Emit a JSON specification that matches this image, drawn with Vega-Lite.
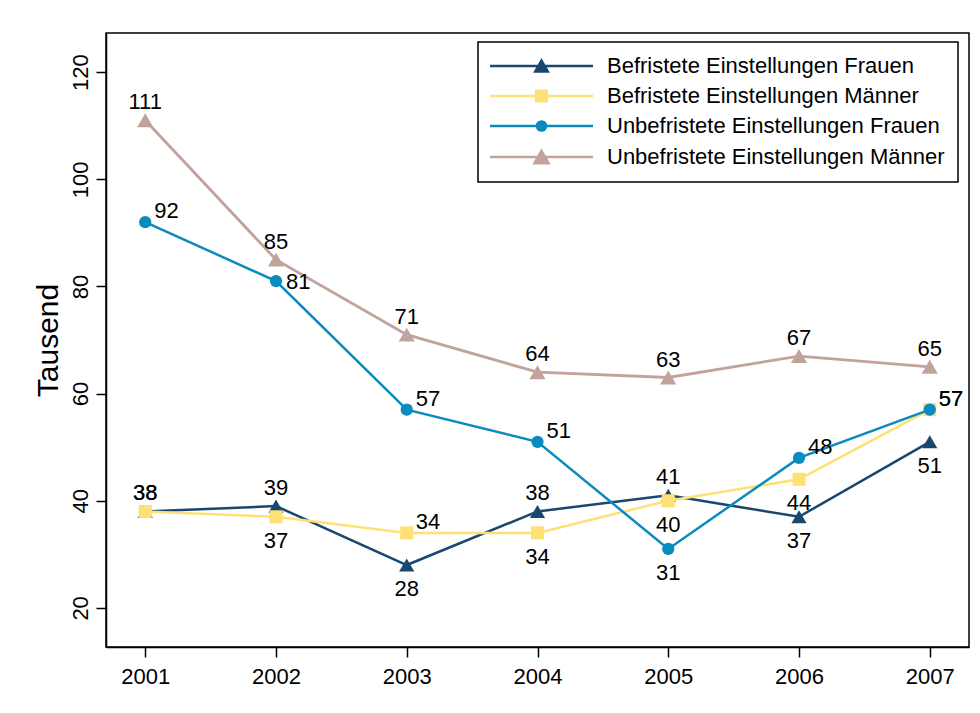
{
  "$schema": "https://vega.github.io/schema/vega-lite/v6.json",
  "width": 863,
  "height": 614,
  "autosize": {"type": "none"},
  "padding": {"left": 106, "top": 33, "right": 11, "bottom": 66},
  "background": "white",
  "config": {
    "font": "Liberation Sans",
    "view": {"stroke": "#000", "strokeWidth": 1.5},
    "axis": {
      "grid": false,
      "domainColor": "#000",
      "domainWidth": 1.5,
      "tickColor": "#000",
      "tickWidth": 1.5,
      "tickSize": 10,
      "labelColor": "#000",
      "labelFontSize": 22,
      "labelFont": "Liberation Sans",
      "titleFont": "Liberation Sans",
      "titleColor": "#000",
      "titleFontWeight": "normal"
    },
    "axisX": {"labelPadding": 9, "labelFlush": false},
    "axisY": {"labelAngle": -90, "labelAlign": "center", "labelBaseline": "bottom", "labelPadding": 4, "titleFontSize": 30, "titlePadding": 6},
    "legend": {
      "orient": "none",
      "legendX": 372,
      "legendY": 9,
      "title": null,
      "labelFontSize": 22,
      "labelFont": "Liberation Sans",
      "labelColor": "#000",
      "labelLimit": 500,
      "strokeColor": "#000",
      "strokeWidth": 1.5,
      "fillColor": "#fff",
      "padding": 13,
      "symbolSize": 100,
      "symbolStrokeWidth": 2.5,
      "symbolOffset": 39.5,
      "labelOffset": 54.5,
      "rowPadding": 8
    }
  },
  "data": {
    "values": [
      {"year": 2001, "series": "Befristete Einstellungen Frauen", "value": 38},
      {"year": 2002, "series": "Befristete Einstellungen Frauen", "value": 39},
      {"year": 2003, "series": "Befristete Einstellungen Frauen", "value": 28},
      {"year": 2004, "series": "Befristete Einstellungen Frauen", "value": 38},
      {"year": 2005, "series": "Befristete Einstellungen Frauen", "value": 41},
      {"year": 2006, "series": "Befristete Einstellungen Frauen", "value": 37},
      {"year": 2007, "series": "Befristete Einstellungen Frauen", "value": 51},
      {"year": 2001, "series": "Befristete Einstellungen Männer", "value": 38},
      {"year": 2002, "series": "Befristete Einstellungen Männer", "value": 37},
      {"year": 2003, "series": "Befristete Einstellungen Männer", "value": 34},
      {"year": 2004, "series": "Befristete Einstellungen Männer", "value": 34},
      {"year": 2005, "series": "Befristete Einstellungen Männer", "value": 40},
      {"year": 2006, "series": "Befristete Einstellungen Männer", "value": 44},
      {"year": 2007, "series": "Befristete Einstellungen Männer", "value": 57},
      {"year": 2001, "series": "Unbefristete Einstellungen Frauen", "value": 92},
      {"year": 2002, "series": "Unbefristete Einstellungen Frauen", "value": 81},
      {"year": 2003, "series": "Unbefristete Einstellungen Frauen", "value": 57},
      {"year": 2004, "series": "Unbefristete Einstellungen Frauen", "value": 51},
      {"year": 2005, "series": "Unbefristete Einstellungen Frauen", "value": 31},
      {"year": 2006, "series": "Unbefristete Einstellungen Frauen", "value": 48},
      {"year": 2007, "series": "Unbefristete Einstellungen Frauen", "value": 57},
      {"year": 2001, "series": "Unbefristete Einstellungen Männer", "value": 111},
      {"year": 2002, "series": "Unbefristete Einstellungen Männer", "value": 85},
      {"year": 2003, "series": "Unbefristete Einstellungen Männer", "value": 71},
      {"year": 2004, "series": "Unbefristete Einstellungen Männer", "value": 64},
      {"year": 2005, "series": "Unbefristete Einstellungen Männer", "value": 63},
      {"year": 2006, "series": "Unbefristete Einstellungen Männer", "value": 67},
      {"year": 2007, "series": "Unbefristete Einstellungen Männer", "value": 65}
    ]
  },
  "encoding": {
    "x": {
      "field": "year",
      "type": "quantitative",
      "title": null,
      "scale": {"domain": [2000.7, 2007.3], "nice": false, "zero": false},
      "axis": {"values": [2001, 2002, 2003, 2004, 2005, 2006, 2007], "format": "d"}
    },
    "y": {
      "field": "value",
      "type": "quantitative",
      "title": "Tausend",
      "scale": {"domain": [12.7, 127.3], "nice": false, "zero": false},
      "axis": {"values": [20, 40, 60, 80, 100, 120]}
    }
  },
  "layer": [
    {
      "transform": [{"filter": "false"}],
      "mark": {"type": "point", "filled": true, "opacity": 1},
      "encoding": {
        "color": {
          "field": "series",
          "type": "nominal",
          "scale": {"domain": ["Befristete Einstellungen Frauen", "Befristete Einstellungen Männer", "Unbefristete Einstellungen Frauen", "Unbefristete Einstellungen Männer"], "range": ["#1a476f", "#ffe075", "#0a8bbf", "#c2a39b"]},
          "legend": {
            "title": null,
            "encode": {"symbols": {"update": {"stroke": {"scale": "color", "field": "value"}, "strokeWidth": {"value": 2.5}}}}
          }
        },
        "shape": {
          "field": "series",
          "type": "nominal",
          "legend": {"title": null},
          "scale": {
            "domain": ["Befristete Einstellungen Frauen", "Befristete Einstellungen Männer", "Unbefristete Einstellungen Frauen", "Unbefristete Einstellungen Männer"],
            "range": [
              "M-10.3,0H10.3M0,-1.08L1.25,1.08L-1.25,1.08Z",
              "M-10.3,0H10.3M-1.05,-1.05H1.05V1.05H-1.05Z",
              "M-10.3,0H10.3M0.92,0A0.92,0.92,0,1,1,-0.92,0A0.92,0.92,0,1,1,0.92,0Z",
              "M-10.3,0H10.3M0,-1.23L1.42,1.23L-1.42,1.23Z"
            ]
          }
        }
      }
    },
    {
      "transform": [{"filter": "datum.series == 'Befristete Einstellungen Frauen'"}],
      "encoding": {"color": {"field": "series", "type": "nominal", "legend": null}},
      "layer": [
        {"mark": {"type": "line", "strokeWidth": 2.5}},
        {"mark": {"type": "point", "shape": "triangle-up", "filled": true, "opacity": 1, "size": 230}}
      ]
    },
    {
      "transform": [{"filter": "datum.series == 'Befristete Einstellungen Männer'"}],
      "encoding": {"color": {"field": "series", "type": "nominal", "legend": null}},
      "layer": [
        {"mark": {"type": "line", "strokeWidth": 2.5}},
        {"mark": {"type": "point", "shape": "square", "filled": true, "opacity": 1, "size": 170}}
      ]
    },
    {
      "transform": [{"filter": "datum.series == 'Unbefristete Einstellungen Frauen'"}],
      "encoding": {"color": {"field": "series", "type": "nominal", "legend": null}},
      "layer": [
        {"mark": {"type": "line", "strokeWidth": 2.5}},
        {"mark": {"type": "point", "shape": "circle", "filled": true, "opacity": 1, "size": 150}}
      ]
    },
    {
      "transform": [{"filter": "datum.series == 'Unbefristete Einstellungen Männer'"}],
      "encoding": {"color": {"field": "series", "type": "nominal", "legend": null}},
      "layer": [
        {"mark": {"type": "line", "strokeWidth": 2.8}},
        {"mark": {"type": "point", "shape": "triangle-up", "filled": true, "opacity": 1, "size": 260}}
      ]
    },
    {
      "transform": [{"filter": "datum.series == 'Unbefristete Einstellungen Männer' || (datum.series == 'Befristete Einstellungen Frauen' && indexof([2001, 2002, 2004, 2005], datum.year) >= 0) || (datum.series == 'Befristete Einstellungen Männer' && datum.year == 2001)"}],
      "mark": {"type": "text", "fontSize": 22, "color": "#000", "align": "center", "baseline": "middle", "dy": -18},
      "encoding": {"text": {"field": "value", "type": "quantitative"}}
    },
    {
      "transform": [{"filter": "(datum.series == 'Befristete Einstellungen Frauen' && indexof([2003, 2006, 2007], datum.year) >= 0) || (datum.series == 'Befristete Einstellungen Männer' && indexof([2002, 2004, 2005, 2006], datum.year) >= 0) || (datum.series == 'Unbefristete Einstellungen Frauen' && datum.year == 2005)"}],
      "mark": {"type": "text", "fontSize": 22, "color": "#000", "align": "center", "baseline": "middle", "dy": 24},
      "encoding": {"text": {"field": "value", "type": "quantitative"}}
    },
    {
      "transform": [{"filter": "(datum.series == 'Unbefristete Einstellungen Frauen' && indexof([2001, 2003, 2004, 2006, 2007], datum.year) >= 0) || (datum.series == 'Befristete Einstellungen Männer' && indexof([2003, 2007], datum.year) >= 0)"}],
      "mark": {"type": "text", "fontSize": 22, "color": "#000", "align": "left", "baseline": "middle", "dx": 9, "dy": -11},
      "encoding": {"text": {"field": "value", "type": "quantitative"}}
    },
    {
      "transform": [{"filter": "datum.series == 'Unbefristete Einstellungen Frauen' && datum.year == 2002"}],
      "mark": {"type": "text", "fontSize": 22, "color": "#000", "align": "left", "baseline": "middle", "dx": 10, "dy": 1},
      "encoding": {"text": {"field": "value", "type": "quantitative"}}
    }
  ]
}
